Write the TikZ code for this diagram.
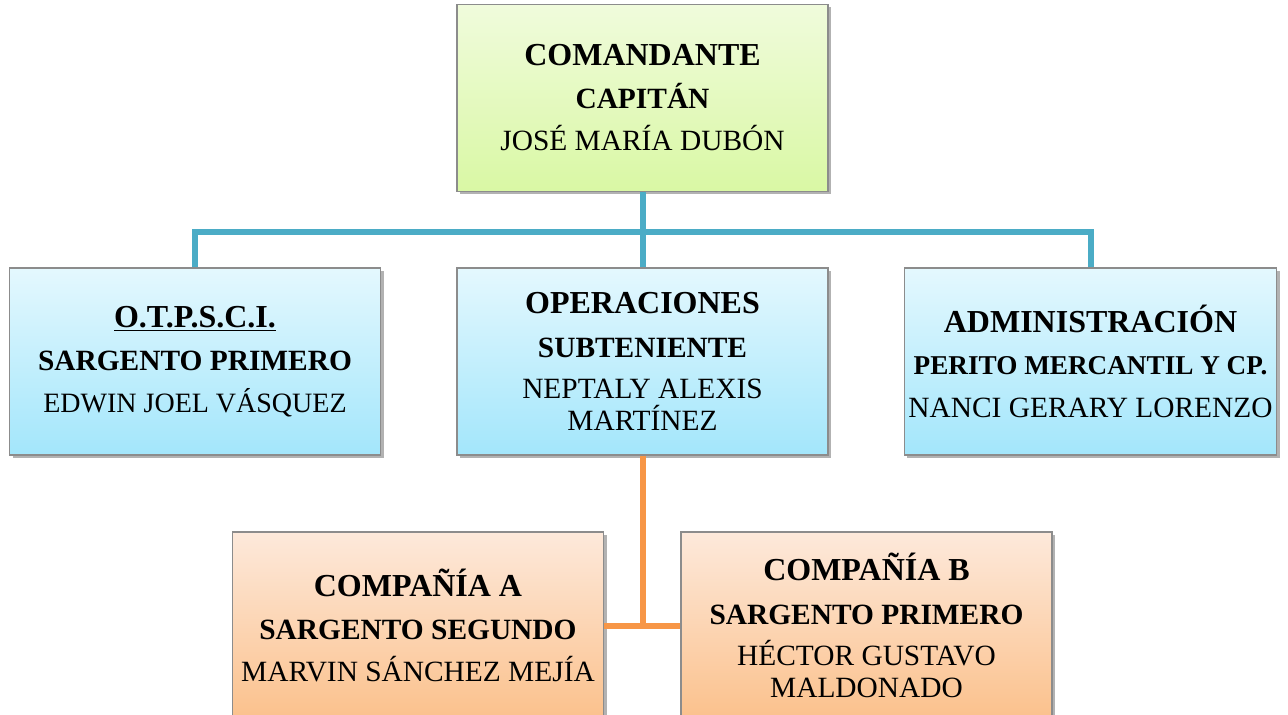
\documentclass[tikz,border=0pt]{standalone}
\usepackage{fontspec}
\setmainfont{Liberation Serif}
\usetikzlibrary{shadows}

\definecolor{lineablue}{HTML}{4BACC6}
\definecolor{lineaorange}{HTML}{F79646}
\definecolor{verdearriba}{HTML}{F0FBDC}
\definecolor{verdeabajo}{HTML}{D9F8A4}
\definecolor{azularriba}{HTML}{E4F8FE}
\definecolor{azulabajo}{HTML}{A3E6FB}
\definecolor{naranjaarriba}{HTML}{FDE9DB}
\definecolor{naranjaabajo}{HTML}{FBC18C}

\newcommand{\cargo}[1]{{\fontsize{16}{16}\selectfont\bfseries #1}}
\newcommand{\grado}[1]{{\fontsize{14.7}{16}\selectfont\bfseries #1}}

\tikzset{
  caja/.style={draw=black!45, line width=0.6pt, minimum width=185.5pt, minimum height=93.5pt,
    align=center, font=\fontsize{14.7}{16}\selectfont, inner sep=2pt,
    drop shadow={shadow xshift=1.5pt, shadow yshift=-1.5pt, fill=black, opacity=0.3}},
  cajaverde/.style={caja, top color=verdearriba, bottom color=verdeabajo},
  cajaazul/.style={caja, top color=azularriba, bottom color=azulabajo},
  cajanaranja/.style={caja, top color=naranjaarriba, bottom color=naranjaabajo},
  lineaazul/.style={lineablue, line width=3pt},
  lineanaranja/.style={lineaorange, line width=3pt}
}

\begin{document}
\begin{tikzpicture}[x=0.5pt, y=-0.5pt]
  \useasboundingbox[fill=white] (0,0) rectangle (1288,715);

  % conectores
  \coordinate (bus) at (642.5,232);
  \coordinate (cruce) at (642.5,625.5);

  % cajas
  \node[cajaverde] (cmd) at (642.5,98) {\cargo{COMANDANTE}\\[5.5pt]
    \grado{CAPITÁN}\\[5pt] JOSÉ MARÍA DUBÓN};
  \node[cajaazul] (otp) at (195,361.5) {\cargo{\underline{O.T.P.S.C.I.}}\\[5.5pt]
    \grado{SARGENTO PRIMERO}\\[5pt] {\fontsize{14}{16}\selectfont EDWIN JOEL VÁSQUEZ}};
  \node[cajaazul] (ops) at (642.5,361.5) {\cargo{OPERACIONES}\\[6pt]
    \grado{SUBTENIENTE}\\[4.5pt] NEPTALY ALEXIS\\ MARTÍNEZ};
  \node[cajaazul] (adm) at (1090.5,361.5) {\cargo{ADMINISTRACIÓN}\\[5pt]
    {\fontsize{13.6}{16}\selectfont\bfseries PERITO MERCANTIL Y CP.}\\[5.5pt] NANCI GERARY LORENZO};
  \node[cajanaranja] (cia) at (418,625.5) {\cargo{COMPAÑÍA A}\\[5.5pt]
    \grado{SARGENTO SEGUNDO}\\[5pt] MARVIN SÁNCHEZ MEJÍA};
  \node[cajanaranja] (cib) at (866.5,625.5) {\cargo{COMPAÑÍA B}\\[6pt]
    \grado{SARGENTO PRIMERO}\\[4.5pt] HÉCTOR GUSTAVO\\ MALDONADO};

  \draw[lineaazul] (cmd.south) -- (bus);
  \draw[lineaazul] (otp.north) |- (bus) -| (adm.north);
  \draw[lineaazul] (bus) -- (ops.north);
  \draw[lineanaranja] (ops.south) -- (cruce);
  \draw[lineanaranja] (cia.east) -- (cib.west);
\end{tikzpicture}
\end{document}
